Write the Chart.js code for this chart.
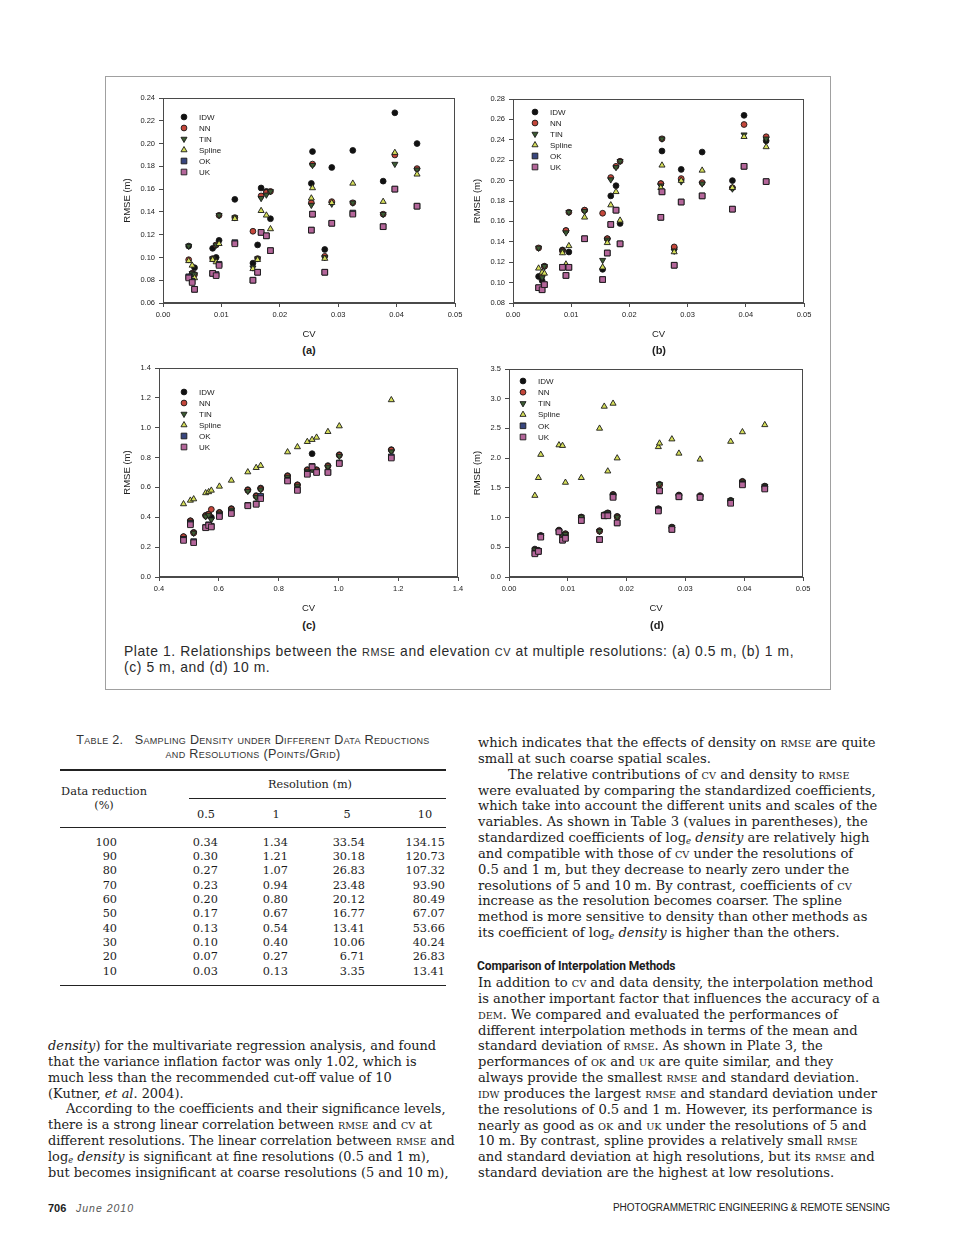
<!DOCTYPE html>
<html>
<head>
<meta charset="utf-8">
<script src="https://cdn.jsdelivr.net/npm/chart.js@4.4.1/dist/chart.umd.min.js"></script>
<style>
  body { margin: 0; background: #fff; }
  #page { position: relative; width: 960px; height: 1247px; overflow: hidden; background: #fff; color: #1c1c1c; }
  .plate { position: absolute; left: 105px; top: 76px; width: 724px; height: 612px; border: 1.5px solid #a0a0a0; }
  canvas { position: absolute; }
  .plab { position: absolute; font: bold 11px "Liberation Sans", Arial, sans-serif; transform: translate(-50%, -50%); color: #222; }
  .cap { position: absolute; left: 124px; font: 13.9px "Liberation Sans", Arial, sans-serif; letter-spacing: 0.58px; color: #2a2a2a; white-space: nowrap; line-height: 16px; }
  .cap .sc { font-size: 0.78em; }
  .txt { position: absolute; font-family: "DejaVu Serif", serif; font-size: 13.1px; line-height: 15.85px; white-space: nowrap; color: #1c1c1c; }
  .txt > div { height: 15.85px; overflow: visible; }
  .sc { font-size: 0.74em; }
  sub { font-size: 0.65em; vertical-align: -0.25em; line-height: 0; font-style: italic; }
  .head { position: absolute; left: 477px; top: 959px; font: bold 12px "Liberation Sans Narrow", "Roboto", sans-serif; letter-spacing: -0.1px; }
  .ttl { position: absolute; left: 50px; width: 406px; top: 733px; text-align: center; font: 12.6px "Liberation Sans", sans-serif; font-variant: small-caps; letter-spacing: 0.3px; line-height: 14px; color: #333; }
  .rule { position: absolute; background: #222; }
  .tc { position: absolute; font-family: "DejaVu Serif", serif; font-size: 11.3px; line-height: 14px; white-space: nowrap; }
  .foot { position: absolute; top: 1202px; font-family: "Liberation Sans", sans-serif; white-space: nowrap; }
</style>
</head>
<body>
<div id="page">
  <div class="plate"></div>
  <canvas id="chartA" width="360" height="252" style="left:110px;top:88px;width:360px;height:252px"></canvas>
  <canvas id="chartB" width="360" height="252" style="left:460px;top:88px;width:360px;height:252px"></canvas>
  <canvas id="chartC" width="360" height="256" style="left:110px;top:358px;width:360px;height:256px"></canvas>
  <canvas id="chartD" width="360" height="256" style="left:460px;top:358px;width:360px;height:256px"></canvas>
  <div class="plab" style="left:309px;top:350px">(a)</div>
  <div class="plab" style="left:659px;top:350px">(b)</div>
  <div class="plab" style="left:309px;top:625px">(c)</div>
  <div class="plab" style="left:657px;top:625px">(d)</div>
  <div class="cap" style="top:643px">Plate 1. Relationships between the <span class="sc">RMSE</span> and elevation <span class="sc">CV</span> at multiple resolutions: (a) 0.5 m, (b) 1 m,</div>
  <div class="cap" style="top:659px">(c) 5 m, and (d) 10 m.</div>

  <div class="ttl">Table 2.&nbsp;&nbsp; Sampling Density under Different Data Reductions<br>and Resolutions (Points/Grid)</div>
  <div class="rule" style="left:60px;top:769px;width:386px;height:1.6px"></div>
  <div class="rule" style="left:189px;top:798px;width:257px;height:1px"></div>
  <div class="rule" style="left:60px;top:827px;width:386px;height:1px"></div>
  <div class="rule" style="left:60px;top:984.5px;width:386px;height:1.6px"></div>
  <div id="tbl"></div>

  <div class="txt" style="left:478px;top:735px">
    <div>which indicates that the effects of density on <span class="sc">RMSE</span> are quite</div>
    <div>small at such coarse spatial scales.</div>
    <div style="padding-left:30px">The relative contributions of <span class="sc">CV</span> and density to <span class="sc">RMSE</span></div>
    <div>were evaluated by comparing the standardized coefficients,</div>
    <div>which take into account the different units and scales of the</div>
    <div>variables. As shown in Table 3 (values in parentheses), the</div>
    <div>standardized coefficients of log<sub>e</sub> <i>density</i> are relatively high</div>
    <div>and compatible with those of <span class="sc">CV</span> under the resolutions of</div>
    <div>0.5 and 1 m, but they decrease to nearly zero under the</div>
    <div>resolutions of 5 and 10 m. By contrast, coefficients of <span class="sc">CV</span></div>
    <div>increase as the resolution becomes coarser. The spline</div>
    <div>method is more sensitive to density than other methods as</div>
    <div>its coefficient of log<sub>e</sub> <i>density</i> is higher than the others.</div>
  </div>
  <div class="head">Comparison of Interpolation Methods</div>
  <div class="txt" style="left:478px;top:975px">
    <div>In addition to <span class="sc">CV</span> and data density, the interpolation method</div>
    <div>is another important factor that influences the accuracy of a</div>
    <div><span class="sc">DEM</span>. We compared and evaluated the performances of</div>
    <div>different interpolation methods in terms of the mean and</div>
    <div>standard deviation of <span class="sc">RMSE</span>. As shown in Plate 3, the</div>
    <div>performances of <span class="sc">OK</span> and <span class="sc">UK</span> are quite similar, and they</div>
    <div>always provide the smallest <span class="sc">RMSE</span> and standard deviation.</div>
    <div><span class="sc">IDW</span> produces the largest <span class="sc">RMSE</span> and standard deviation under</div>
    <div>the resolutions of 0.5 and 1 m. However, its performance is</div>
    <div>nearly as good as <span class="sc">OK</span> and <span class="sc">UK</span> under the resolutions of 5 and</div>
    <div>10 m. By contrast, spline provides a relatively small <span class="sc">RMSE</span></div>
    <div>and standard deviation at high resolutions, but its <span class="sc">RMSE</span> and</div>
    <div>standard deviation are the highest at low resolutions.</div>
  </div>
  <div class="txt" style="left:48px;top:1038px;font-size:12.9px">
    <div><i>density</i>) for the multivariate regression analysis, and found</div>
    <div>that the variance inflation factor was only 1.02, which is</div>
    <div>much less than the recommended cut-off value of 10</div>
    <div>(Kutner, <i>et al</i>. 2004).</div>
    <div style="padding-left:18px">According to the coefficients and their significance levels,</div>
    <div>there is a strong linear correlation between <span class="sc">RMSE</span> and <span class="sc">CV</span> at</div>
    <div>different resolutions. The linear correlation between <span class="sc">RMSE</span> and</div>
    <div>log<sub>e</sub> <i>density</i> is significant at fine resolutions (0.5 and 1 m),</div>
    <div>but becomes insignificant at coarse resolutions (5 and 10 m),</div>
  </div>
  <div class="foot" style="left:48px;font-size:11px;font-weight:bold">706</div>
  <div class="foot" style="left:76px;font-size:10.5px;font-style:italic;letter-spacing:1.0px;color:#555">June 2010</div>
  <div class="foot" style="left:613px;font-size:10px;letter-spacing:-0.05px;color:#222">PHOTOGRAMMETRIC ENGINEERING &amp; REMOTE SENSING</div>
</div>

<script>
// CV of the study areas (same areas in panels a, b and d)
const cvFine = [0.0044, 0.0050, 0.0054, 0.0085, 0.0091, 0.0096, 0.0123, 0.0154, 0.0162, 0.0168,
                0.0177, 0.0184, 0.0254, 0.0256, 0.0277, 0.0289, 0.0325, 0.0377, 0.0397, 0.0435];
// panel (c) uses its own CV scale
const cvC = [0.482, 0.505, 0.516, 0.556, 0.566, 0.575, 0.602, 0.642, 0.697, 0.725,
             0.740, 0.830, 0.863, 0.896, 0.912, 0.927, 0.965, 1.003, 1.177];

const methods = ['IDW', 'NN', 'TIN', 'Spline', 'OK', 'UK'];

// (a) 0.5 m
const aIDW    = [0.110, 0.086, 0.091, 0.108, 0.100, 0.115, 0.151, 0.095, 0.111, 0.161, 0.158, 0.134, 0.165, 0.193, 0.107, 0.179, 0.194, 0.167, 0.227, 0.200];
const aNN     = [0.098, 0.086, 0.085, 0.099, 0.111, 0.137, 0.135, 0.123, 0.099, 0.154, 0.157, 0.158, 0.148, 0.182, 0.101, 0.149, 0.148, 0.138, 0.190, 0.178];
const aTIN    = [0.110, 0.086, 0.085, 0.099, 0.111, 0.137, 0.135, 0.091, 0.099, 0.152, 0.155, 0.158, 0.146, 0.181, 0.100, 0.147, 0.148, 0.138, 0.182, 0.177];
const aSpline = [0.097, 0.093, 0.082, 0.098, 0.096, 0.112, 0.134, 0.090, 0.098, 0.141, 0.137, 0.125, 0.152, 0.161, 0.099, 0.148, 0.165, 0.149, 0.192, 0.173];
const aOK     = [0.083, 0.079, 0.072, 0.086, 0.085, 0.094, 0.113, 0.080, 0.087, 0.122, 0.119, 0.106, 0.124, 0.138, 0.087, 0.130, 0.139, 0.127, 0.160, 0.145];
const aUK     = [0.082, 0.078, 0.072, 0.086, 0.084, 0.093, 0.112, 0.080, 0.087, 0.122, 0.119, 0.106, 0.124, 0.138, 0.087, 0.130, 0.138, 0.127, 0.160, 0.145];

// (b) 1 m
const bIDW    = [0.106, 0.102, 0.116, 0.132, 0.151, 0.130, 0.171, 0.113, 0.143, 0.185, 0.195, 0.158, 0.197, 0.229, 0.134, 0.211, 0.228, 0.200, 0.264, 0.239];
const bNN     = [0.134, 0.107, 0.116, 0.131, 0.151, 0.169, 0.171, 0.168, 0.143, 0.203, 0.214, 0.219, 0.197, 0.241, 0.135, 0.202, 0.198, 0.193, 0.255, 0.243];
const bTIN    = [0.134, 0.105, 0.116, 0.131, 0.149, 0.169, 0.170, 0.122, 0.142, 0.201, 0.213, 0.219, 0.195, 0.241, 0.131, 0.199, 0.197, 0.192, 0.245, 0.241];
const bSpline = [0.114, 0.110, 0.109, 0.129, 0.118, 0.136, 0.164, 0.115, 0.139, 0.176, 0.189, 0.161, 0.193, 0.215, 0.130, 0.200, 0.210, 0.193, 0.243, 0.233];
const bOK     = [0.095, 0.093, 0.098, 0.115, 0.107, 0.115, 0.143, 0.103, 0.129, 0.157, 0.171, 0.138, 0.164, 0.189, 0.117, 0.179, 0.185, 0.172, 0.214, 0.199];
const bUK     = [0.095, 0.093, 0.098, 0.115, 0.107, 0.115, 0.143, 0.103, 0.129, 0.157, 0.171, 0.138, 0.164, 0.189, 0.117, 0.179, 0.185, 0.172, 0.214, 0.199];

// (c) 5 m
const cIDW    = [0.270, 0.377, 0.299, 0.413, 0.422, 0.400, 0.433, 0.458, 0.585, 0.545, 0.596, 0.679, 0.618, 0.719, 0.826, 0.719, 0.746, 0.819, 0.853];
const cNN     = [0.270, 0.375, 0.295, 0.410, 0.420, 0.453, 0.430, 0.455, 0.580, 0.540, 0.590, 0.675, 0.615, 0.715, 0.730, 0.715, 0.742, 0.815, 0.850];
const cTIN    = [0.260, 0.370, 0.295, 0.405, 0.415, 0.384, 0.425, 0.450, 0.575, 0.535, 0.585, 0.670, 0.610, 0.710, 0.720, 0.710, 0.738, 0.810, 0.840];
const cSpline = [0.489, 0.513, 0.522, 0.563, 0.570, 0.580, 0.607, 0.647, 0.703, 0.732, 0.746, 0.837, 0.871, 0.906, 0.920, 0.935, 0.973, 1.011, 1.186];
const cOK     = [0.250, 0.357, 0.237, 0.333, 0.350, 0.340, 0.410, 0.430, 0.480, 0.490, 0.540, 0.647, 0.585, 0.692, 0.741, 0.703, 0.703, 0.764, 0.805];
const cUK     = [0.245, 0.350, 0.230, 0.330, 0.345, 0.335, 0.405, 0.425, 0.477, 0.487, 0.525, 0.643, 0.580, 0.688, 0.737, 0.700, 0.700, 0.760, 0.797];

// (d) 10 m
const dIDW    = [0.47, 0.45, 0.70, 0.79, 0.70, 0.73, 1.01, 0.78, 1.05, 1.08, 1.39, 1.02, 1.15, 1.56, 0.84, 1.38, 1.37, 1.29, 1.61, 1.53];
const dNN     = [0.45, 0.44, 0.69, 0.78, 0.69, 0.72, 1.00, 0.77, 1.04, 1.07, 1.38, 1.01, 1.14, 1.55, 0.83, 1.37, 1.36, 1.28, 1.60, 1.52];
const dTIN    = [0.46, 0.45, 0.70, 0.78, 0.70, 0.72, 1.01, 0.77, 1.05, 1.08, 1.38, 1.01, 1.15, 1.56, 0.84, 1.37, 1.36, 1.29, 1.60, 1.53];
const dSpline = [1.37, 1.67, 2.06, 2.22, 2.21, 1.59, 1.67, 2.50, 2.87, 1.78, 2.92, 2.00, 2.19, 2.25, 2.32, 2.08, 1.98, 2.28, 2.44, 2.56];
const dOK     = [0.40, 0.43, 0.68, 0.76, 0.62, 0.66, 0.95, 0.63, 1.03, 1.04, 1.35, 0.91, 1.12, 1.45, 0.80, 1.35, 1.34, 1.25, 1.56, 1.49];
const dUK     = [0.39, 0.43, 0.67, 0.76, 0.62, 0.65, 0.95, 0.63, 1.03, 1.03, 1.34, 0.91, 1.11, 1.45, 0.80, 1.35, 1.34, 1.24, 1.55, 1.48];

// tick labels
const xTicksFine = [0.00, 0.01, 0.02, 0.03, 0.04, 0.05];
const xTicksC = [0.4, 0.6, 0.8, 1.0, 1.2, 1.4];
const yTicksA = [0.06, 0.08, 0.10, 0.12, 0.14, 0.16, 0.18, 0.20, 0.22, 0.24];
const yTicksB = [0.08, 0.10, 0.12, 0.14, 0.16, 0.18, 0.20, 0.22, 0.24, 0.26, 0.28];
const yTicksC = [0.0, 0.2, 0.4, 0.6, 0.8, 1.0, 1.2, 1.4];
const yTicksD = [0.0, 0.5, 1.0, 1.5, 2.0, 2.5, 3.0, 3.5];

// table 2
const reductions = [100, 90, 80, 70, 60, 50, 40, 30, 20, 10];
const resolutions = ['0.5', '1', '5', '10'];
const dens05 = ['0.34', '0.30', '0.27', '0.23', '0.20', '0.17', '0.13', '0.10', '0.07', '0.03'];
const dens1  = ['1.34', '1.21', '1.07', '0.94', '0.80', '0.67', '0.54', '0.40', '0.27', '0.13'];
const dens5  = ['33.54', '30.18', '26.83', '23.48', '20.12', '16.77', '13.41', '10.06', '6.71', '3.35'];
const dens10 = ['134.15', '120.73', '107.32', '93.90', '80.49', '67.07', '53.66', '40.24', '26.83', '13.41'];

const fills  = ['#111111', '#c4463a', '#3c5c33', '#d5de5a', '#38467e', '#b4669a'];
const shapes = ['circle', 'circle', 'triangle', 'triangle', 'rect', 'rect'];
const rots   = [0, 0, 180, 0, 0, 0];
const radii  = [2.9, 2.9, 3.5, 3.5, 4.0, 4.0];
const fontFam = '"Liberation Sans", Arial, sans-serif';

// frame round the plot area + legend drawn inside it
const panelDecor = {
  id: 'panelDecor',
  afterDatasetsDraw(chart, args, opts) {
    const { ctx, chartArea: a } = chart;
    ctx.save();
    ctx.strokeStyle = '#4a4a4a';
    ctx.lineWidth = 1;
    ctx.strokeRect(a.left + 0.5, a.top + 0.5, a.width - 1, a.height - 1);
    chart.data.datasets.forEach((ds, i) => {
      const x = a.left + opts.dx;
      const y = a.top + opts.dy + i * opts.gap;
      ctx.fillStyle = ds.backgroundColor;
      ctx.strokeStyle = ds.borderColor;
      ctx.lineWidth = 0.9;
      Chart.helpers.drawPoint(ctx, { pointStyle: ds.pointStyle, rotation: ds.rotation, radius: ds.pointRadius, borderWidth: 0.9 }, x, y);
      ctx.fillStyle = '#222';
      ctx.font = '8px ' + fontFam;
      ctx.textBaseline = 'middle';
      ctx.fillText(ds.label, x + 15, y + 0.5);
    });
    ctx.restore();
  }
};

function panel(id, xs, series, xTicks, yTicks, xDec, yDec, xr, yr, pad, yW, leg) {
  const datasets = methods.map((m, i) => ({
    label: m,
    data: xs.map((x, j) => ({ x: x, y: series[i][j] })),
    pointStyle: shapes[i],
    rotation: rots[i],
    pointRadius: radii[i],
    backgroundColor: fills[i],
    borderColor: '#1a1a1a',
    borderWidth: 0.9,
    order: 6 - i
  }));
  new Chart(document.getElementById(id), {
    type: 'scatter',
    data: { datasets },
    options: {
      responsive: false,
      animation: false,
      layout: { padding: pad },
      plugins: { legend: { display: false }, tooltip: { enabled: false }, panelDecor: leg },
      scales: {
        x: {
          type: 'linear', min: xr[0], max: xr[1],
          afterBuildTicks: s => { s.ticks = xTicks.map(v => ({ value: v })); },
          afterFit: s => { s.height = 37; },
          ticks: { callback: v => v.toFixed(xDec), font: { size: 7.5, family: fontFam }, color: '#222', padding: 3, maxRotation: 0 },
          grid: { drawOnChartArea: false, drawTicks: true, tickLength: 4, color: '#4a4a4a' },
          border: { color: '#4a4a4a' },
          title: { display: true, text: 'CV', font: { size: 9.5, family: fontFam }, color: '#222', padding: { top: 2, bottom: 0 } }
        },
        y: {
          type: 'linear', min: yr[0], max: yr[1],
          afterBuildTicks: s => { s.ticks = yTicks.map(v => ({ value: v })); },
          afterFit: s => { s.width = yW; },
          ticks: { callback: v => v.toFixed(yDec), font: { size: 7.5, family: fontFam }, color: '#222', padding: 4 },
          grid: { drawOnChartArea: false, drawTicks: true, tickLength: 4, color: '#4a4a4a' },
          border: { color: '#4a4a4a' },
          title: { display: true, text: 'RMSE (m)', font: { size: 9.5, family: fontFam }, color: '#222', padding: { top: 12, bottom: 0 } }
        }
      }
    },
    plugins: [panelDecor]
  });
}

panel('chartA', cvFine, [aIDW, aNN, aTIN, aSpline, aOK, aUK], xTicksFine, yTicksA, 2, 2, [0, 0.05], [0.06, 0.24],
      { top: 10, right: 15, left: 0, bottom: 0 }, 53, { dx: 21, dy: 19, gap: 11 });
panel('chartB', cvFine, [bIDW, bNN, bTIN, bSpline, bOK, bUK], xTicksFine, yTicksB, 2, 2, [0, 0.05], [0.08, 0.28],
      { top: 11, right: 16, left: 0, bottom: 0 }, 53, { dx: 22, dy: 13, gap: 11 });
panel('chartC', cvC, [cIDW, cNN, cTIN, cSpline, cOK, cUK], xTicksC, yTicksC, 1, 1, [0.4, 1.4], [0, 1.4],
      { top: 10, right: 12, left: 0, bottom: 0 }, 49, { dx: 25, dy: 24, gap: 11 });
panel('chartD', cvFine, [dIDW, dNN, dTIN, dSpline, dOK, dUK], xTicksFine, yTicksD, 2, 1, [0, 0.05], [0, 3.5],
      { top: 11, right: 17, left: 0, bottom: 0 }, 49, { dx: 14, dy: 12, gap: 11.2 });

// table 2 body
const tbl = document.getElementById('tbl');
function cell(text, x, y, align) {
  const d = document.createElement('div');
  d.className = 'tc';
  d.textContent = text;
  d.style.top = (y - 7) + 'px';
  if (align === 'right') { d.style.right = (960 - x) + 'px'; }
  else { d.style.left = x + 'px'; d.style.transform = 'translateX(-50%)'; }
  tbl.appendChild(d);
}
cell('Resolution (m)', 310, 785, 'center');
cell('Data reduction', 104, 791.5, 'center');
cell('(%)', 104, 806, 'center');
const colCenters = [206, 276, 347, 425];
resolutions.forEach((r, i) => cell(r, colCenters[i], 815, 'center'));
const colRights = [218, 288, 365, 445];
const cols = [dens05, dens1, dens5, dens10];
reductions.forEach((r, k) => {
  const y = 842.7 + k * 14.33;
  cell(String(r), 117, y, 'right');
  cols.forEach((c, i) => cell(c[k], colRights[i], y, 'right'));
});
</script>
</body>
</html>
